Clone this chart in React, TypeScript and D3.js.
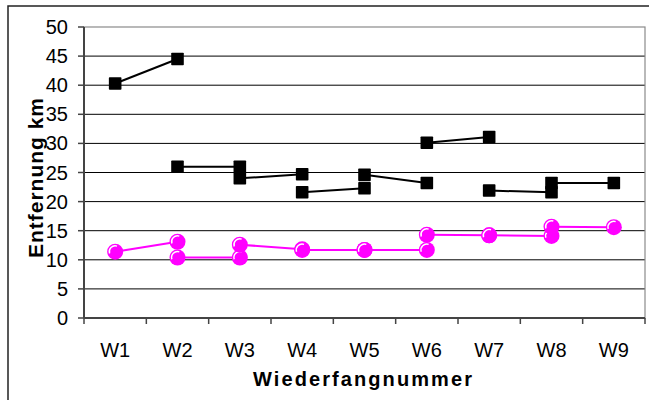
import React from "react";
import * as d3 from "d3";

const categories = ["W1", "W2", "W3", "W4", "W5", "W6", "W7", "W8", "W9"];
const yTicks = [0, 5, 10, 15, 20, 25, 30, 35, 40, 45, 50];

// black square series: [category, value] pairs
const blackSeries: [string, number][][] = [
  [["W1", 40.3], ["W2", 44.5]],
  [["W2", 26.0], ["W3", 26.0]],
  [["W3", 24.0], ["W4", 24.7]],
  [["W4", 21.6], ["W5", 22.3]],
  [["W5", 24.6], ["W6", 23.2]],
  [["W6", 30.1], ["W7", 31.1]],
  [["W7", 21.9], ["W8", 21.6]],
  [["W8", 23.2], ["W9", 23.2]],
];

// magenta circle series
const pinkSeries: [string, number][][] = [
  [["W1", 11.4], ["W2", 13.1]],
  [["W2", 10.4], ["W3", 10.4]],
  [["W3", 12.6], ["W4", 11.8]],
  [["W4", 11.7], ["W5", 11.7]],
  [["W5", 11.7], ["W6", 11.7]],
  [["W6", 14.3], ["W7", 14.2]],
  [["W7", 14.2], ["W8", 14.1]],
  [["W8", 15.7], ["W9", 15.6]],
];

const W = 649;
const H = 400;
const left = 84;
const right = 645;
const top = 27;
const bottom = 318;

export default function App() {
  const x = d3.scaleBand<string>().domain(categories).range([left, right]);
  const y = d3.scaleLinear().domain([0, 50]).range([bottom, top]);
  const cx = (c: string) => (x(c) as number) + x.bandwidth() / 2;
  const line = d3
    .line<[string, number]>()
    .x((d) => cx(d[0]))
    .y((d) => y(d[1]));
  const font = "Liberation Sans, Arial, sans-serif";
  const hl = d3.arc()({
    innerRadius: 5.2,
    outerRadius: 6.6,
    startAngle: -Math.PI * 0.6,
    endAngle: Math.PI * 0.1,
  } as any) as string;

  return (
    <svg
      width={W}
      height={H}
      style={{ position: "absolute", left: 0, top: 0, display: "block", background: "#fff" }}
      fontFamily={font}
    >
      <rect x={8} y={6} width={700} height={450} fill="#fff" stroke="#222" strokeWidth={1.5} />
      {/* gridlines */}
      {yTicks
        .filter((t) => t > 0 && t < 50)
        .map((t) => (
          <line key={t} x1={left} x2={right} y1={y(t)} y2={y(t)} stroke="#000" strokeWidth={1} />
        ))}
      <rect x={left} y={top} width={right - left} height={bottom - top} fill="none" stroke="#8a8a8a" strokeWidth={1.2} />
      {/* axes */}
      <line x1={left} x2={left} y1={top} y2={bottom} stroke="#444" strokeWidth={2} />
      <line x1={left} x2={right} y1={bottom} y2={bottom} stroke="#444" strokeWidth={2} />
      {yTicks.map((t) => (
        <g key={t}>
          <line x1={left - 6} x2={left} y1={y(t)} y2={y(t)} stroke="#444" strokeWidth={1.5} />
          <text x={68} y={y(t) + 7} textAnchor="end" fontSize={20} fill="#000">
            {t}
          </text>
        </g>
      ))}
      {[...categories.map((c) => x(c) as number), right].map((v, i) => (
        <line key={i} x1={v} x2={v} y1={bottom} y2={bottom + 6} stroke="#444" strokeWidth={1.5} />
      ))}
      {categories.map((c) => (
        <text key={c} x={cx(c)} y={357} textAnchor="middle" fontSize={20} fill="#000">
          {c}
        </text>
      ))}
      <text
        x={362.5}
        y={386}
        textAnchor="middle"
        fontSize={20}
        fontWeight="bold"
        textLength={219}
        lengthAdjust="spacing"
      >
        Wiederfangnummer
      </text>
      <text
        transform={`translate(43,178) rotate(-90)`}
        textAnchor="middle"
        fontSize={21}
        fontWeight="bold"
        textLength={160}
        lengthAdjust="spacing"
      >
        Entfernung km
      </text>
      {/* black series */}
      {blackSeries.map((s, i) => (
        <g key={"b" + i}>
          <path d={line(s) as string} fill="none" stroke="#000" strokeWidth={2} />
          {s.map((d, j) => (
            <rect key={j} x={cx(d[0]) - 6.3} y={y(d[1]) - 6.3} width={12.6} height={12.6} fill="#000" rx={0.8} />
          ))}
        </g>
      ))}
      {/* pink series */}
      {pinkSeries.map((s, i) => (
        <g key={"p" + i}>
          <path d={line(s) as string} fill="none" stroke="#ff00ff" strokeWidth={2} />
          {s.map((d, j) => (
            <g key={j} transform={`translate(${cx(d[0])},${y(d[1])})`}>
              <circle r={8} fill="#ff00ff" />
              <path d={hl} fill="#fff" />
            </g>
          ))}
        </g>
      ))}
    </svg>
  );
}
